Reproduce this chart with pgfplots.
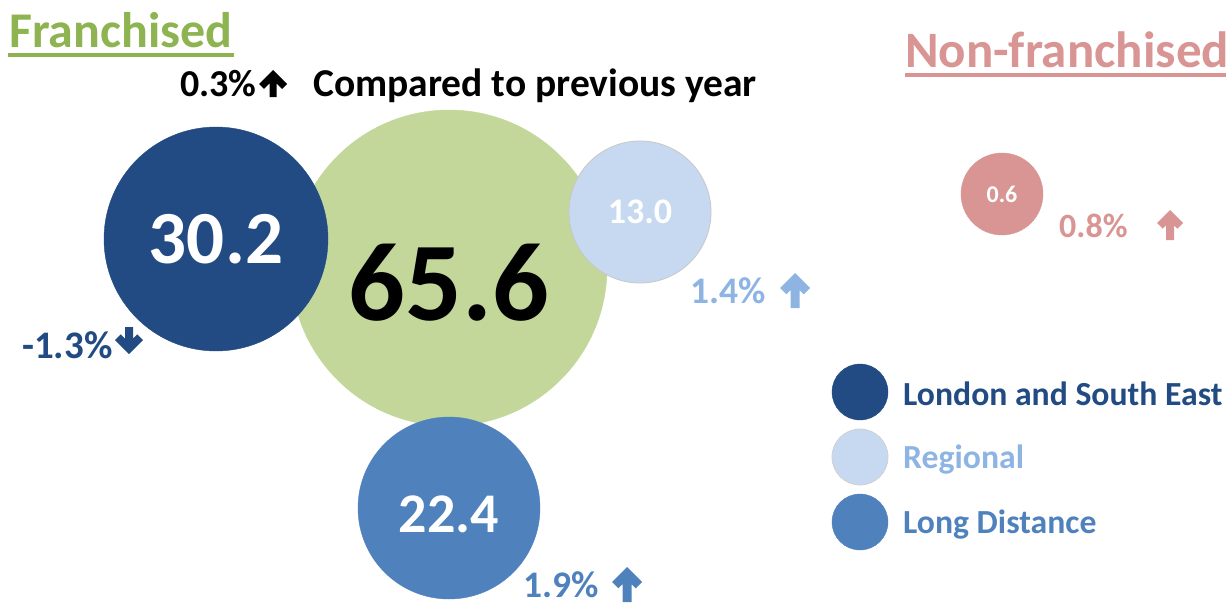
\documentclass[border=0pt]{standalone}
\usepackage{fontspec}
\setmainfont{Carlito}
\usepackage{pgfplots}
\pgfplotsset{compat=1.18}

\definecolor{titlegreen}{RGB}{141,180,80}
\definecolor{bubgreen}{RGB}{196,215,155}
\definecolor{darkblue}{RGB}{33,75,130}
\definecolor{lightblue}{RGB}{198,217,241}
\definecolor{lighttext}{RGB}{141,180,226}
\definecolor{midblue}{RGB}{79,129,189}
\definecolor{pink}{RGB}{217,149,148}

\newcommand{\fs}[1]{\fontsize{#1}{#1}\selectfont\bfseries}
% heavy arrow: tip x, tip y, direction (1 up, -1 down), length, half head width, thickness, colour
\newcommand{\arr}[7]{%
  \fill[#7] (axis cs:#1,#2)
    -- (axis cs:{#1+#5},{#2+#3*#5})
    -- (axis cs:{#1+#5-0.7071*#6},{#2+#3*(#5+0.7071*#6)})
    -- (axis cs:{#1+0.5*#6},{#2+#3*(0.5*#6+1.4142*#6)})
    -- (axis cs:{#1+0.5*#6},{#2+#3*#4})
    -- (axis cs:{#1-0.5*#6},{#2+#3*#4})
    -- (axis cs:{#1-0.5*#6},{#2+#3*(0.5*#6+1.4142*#6)})
    -- (axis cs:{#1-#5+0.7071*#6},{#2+#3*(#5+0.7071*#6)})
    -- (axis cs:{#1-#5},{#2+#3*#5}) -- cycle;}

\begin{document}
\begin{tikzpicture}
\begin{axis}[
    x=1pt, y=1pt,
    y dir=reverse,
    xmin=0, xmax=1230, ymin=0, ymax=605,
    hide axis,
    clip=false,
    only marks,
    mark=*,
    point meta=explicit symbolic,
    nodes near coords,
]
% total franchised
\addplot[mark size=158pt, mark options={draw=bubgreen, fill=bubgreen},
    nodes near coords style={font=\fs{112}, text=black, anchor=center, yshift=-15pt}]
    coordinates {(449,268) [65.6]};
% London and South East
\addplot[mark size=112pt, mark options={draw=darkblue, fill=darkblue},
    nodes near coords style={font=\fs{75}, text=white, anchor=center}]
    coordinates {(216,239) [30.2]};
% Regional
\addplot[mark size=71pt, mark options={draw=black!22, fill=lightblue, line width=0.8pt},
    nodes near coords style={font=\fs{36}, text=white, anchor=center}]
    coordinates {(640,212) [13.0]};
% Long Distance
\addplot[mark size=91pt, mark options={draw=midblue, fill=midblue},
    nodes near coords style={font=\fs{56}, text=white, anchor=center, yshift=-6pt}]
    coordinates {(449,508) [22.4]};
% non-franchised
\addplot[mark size=41pt, mark options={draw=pink, fill=pink},
    nodes near coords style={font=\fs{24}, text=white, anchor=center}]
    coordinates {(1002,194) [0.6]};

% legend circles
\addplot[mark size=28pt, mark options={draw=darkblue, fill=darkblue}, nodes near coords=]
    coordinates {(860,392) []};
\addplot[mark size=28pt, mark options={draw=black!18, fill=lightblue, line width=0.8pt}, nodes near coords=]
    coordinates {(860,457) []};
\addplot[mark size=28pt, mark options={draw=midblue, fill=midblue}, nodes near coords=]
    coordinates {(860,522) []};

% titles
\node[anchor=base west, inner sep=0, text=titlegreen, font=\fs{50}] at (axis cs:9,47) {Franchised};
\draw[titlegreen, line width=4pt] (axis cs:8,54.5) -- (axis cs:234,54.5);
\node[anchor=base west, inner sep=0, text=pink, font=\fs{51}] at (axis cs:905,67) {Non-franchised};
\draw[pink, line width=4pt] (axis cs:905,74.5) -- (axis cs:1226,74.5);

\node[anchor=base west, inner sep=0, text=black, font=\fs{38}] at (axis cs:180,96) {0.3\%};
\arr{273}{70}{1}{27}{14}{7}{black}
\node[anchor=base west, inner sep=0, text=black, font=\fs{39.5}] at (axis cs:313,96) {Compared to previous year};

% changes
\node[anchor=base west, inner sep=0, text=darkblue, font=\fs{39}] at (axis cs:22,358) {-1.3\%};
\arr{129}{354}{-1}{27}{14}{8}{darkblue}
\node[anchor=base west, inner sep=0, text=lighttext, font=\fs{37.5}] at (axis cs:690,303) {1.4\%};
\arr{795}{273}{1}{35}{15}{9}{lighttext}
\node[anchor=base west, inner sep=0, text=midblue, font=\fs{37.5}] at (axis cs:523,597) {1.9\%};
\arr{627}{567}{1}{35}{15}{9}{midblue}
\node[anchor=base west, inner sep=0, text=pink, font=\fs{34}] at (axis cs:1059,237) {0.8\%};
\arr{1170}{210}{1}{30}{13}{8}{pink}

% legend labels
\node[anchor=base west, inner sep=0, text=darkblue, font=\fs{33.7}] at (axis cs:903,405) {London and South East};
\node[anchor=base west, inner sep=0, text=lighttext, font=\fs{33.7}] at (axis cs:903,468) {Regional};
\node[anchor=base west, inner sep=0, text=midblue, font=\fs{33.7}] at (axis cs:903,533) {Long Distance};

\coordinate (tl) at (axis cs:0,0);
\coordinate (br) at (axis cs:1230,605);
\end{axis}
\pgfresetboundingbox
\useasboundingbox (tl) rectangle (br);
\end{tikzpicture}
\end{document}
